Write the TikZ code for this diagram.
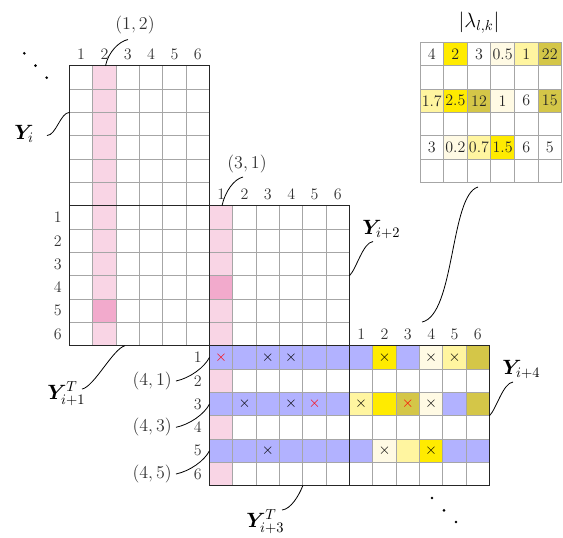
\RequirePackage{fix-cm}
\documentclass[tikz,border=0pt]{standalone}
\usepackage{bm}
\definecolor{pinkL}{RGB}{249,213,229}
\definecolor{pinkD}{RGB}{242,170,204}
\definecolor{blueL}{RGB}{178,178,255}
\definecolor{yel}{RGB}{255,235,0}
\definecolor{yelL}{RGB}{255,245,160}
\definecolor{yelVL}{RGB}{255,250,228}
\definecolor{olivec}{RGB}{212,198,72}
\tikzset{
 gline/.style={draw=black!35, line width=0.75pt},
 gborder/.style={draw=black!85, line width=0.9pt},
 idx/.style={font=\fontsize{12}{14}\selectfont, inner sep=0pt, text=black!80},
 pairlbl/.style={font=\fontsize{13.5}{16}\selectfont, inner sep=0pt, text=black!80},
 ylbl/.style={font=\fontsize{15.5}{19}\selectfont, inner sep=0pt, anchor=base west},
 lam/.style={font=\fontsize{12}{14}\selectfont, inner sep=0pt, text=black!85},
 mk/.style={font=\fontsize{11.5}{13}\selectfont, inner sep=0pt},
 conn/.style={draw=black, line width=0.6pt},
 dotc/.style={fill=black, circle, inner sep=0pt, minimum size=2.2pt},
}
\begin{document}
\begin{tikzpicture}[x=0.75pt,y=-0.75pt]
\useasboundingbox (0,0) rectangle (563,537);
% ---------- main grids ----------
\begin{scope}[shift={(69.5,65.7)}, x=17.5pt, y=-17.5pt]
 % pink columns
 \fill[pinkL] (1,0) rectangle (2,12);
 \fill[pinkD] (1,10) rectangle (2,11);
 \fill[pinkL] (6,6) rectangle (7,12);
 \fill[pinkD] (6,9) rectangle (7,10);
 \foreach \r in {13,15,17} \fill[pinkL] (6,\r) rectangle (7,\r+1);
 % blue rows
 \foreach \r in {12,14,16} \fill[blueL] (6,\r) rectangle (18,\r+1);
 % Y_{i+4} colours
 \fill[yel] (13,12) rectangle (14,13);
 \fill[yelVL] (15,12) rectangle (16,13);
 \fill[yelL] (16,12) rectangle (17,13);
 \fill[olivec] (17,12) rectangle (18,13);
 \fill[yelL] (12,14) rectangle (13,15);
 \fill[yel] (13,14) rectangle (14,15);
 \fill[olivec] (14,14) rectangle (15,15);
 \fill[yelVL] (15,14) rectangle (16,15);
 \fill[olivec] (17,14) rectangle (18,15);
 \fill[yelVL] (13,16) rectangle (14,17);
 \fill[yelL] (14,16) rectangle (15,17);
 \fill[yel] (15,16) rectangle (16,17);
 % grid lines
 \foreach \k in {1,...,5} {
  \draw[gline] (\k,0) -- (\k,12);
  \draw[gline] (0,\k) -- (6,\k);
  \draw[gline] (0,\k+6) -- (6,\k+6);
  \draw[gline] (\k+6,6) -- (\k+6,18);
  \draw[gline] (6,\k+6) -- (12,\k+6);
  \draw[gline] (6,\k+12) -- (18,\k+12);
  \draw[gline] (\k+12,12) -- (\k+12,18);
 }
 % borders
 \draw[gborder] (0,0) rectangle (6,6);
 \draw[gborder] (0,6) rectangle (6,12);
 \draw[gborder] (6,6) rectangle (12,12);
 \draw[gborder] (6,12) rectangle (12,18);
 \draw[gborder] (12,12) rectangle (18,18);
 % column labels
 \foreach \c in {1,...,6} {
  \node[idx] (ca\c) at (\c-0.5,-0.48) {\c};
  \node[idx] (cb\c) at (\c+5.5,5.5) {\c};
  \node[idx] (cc\c) at (\c+11.5,11.52) {\c};
 }
 % row labels
 \foreach \r in {1,...,6} {
  \node[idx] (ra\r) at (-0.5,\r+5.5) {\r};
  \node[idx] (rb\r) at (5.5,\r+11.5) {\r};
 }
 % crosses in Y_{i+3}^T
 \node[mk,red] (m1) at (6.5,12.5) {$\times$};
 \node[mk] (m2) at (8.5,12.5) {$\times$};
 \node[mk] (m3) at (9.5,12.5) {$\times$};
 \node[mk] (m4) at (7.5,14.5) {$\times$};
 \node[mk] (m5) at (9.5,14.5) {$\times$};
 \node[mk,red] (m6) at (10.5,14.5) {$\times$};
 \node[mk] (m7) at (8.5,16.5) {$\times$};
 % crosses in Y_{i+4}
 \node[mk] (n1) at (13.5,12.5) {$\times$};
 \node[mk] (n2) at (15.5,12.5) {$\times$};
 \node[mk] (n3) at (16.5,12.5) {$\times$};
 \node[mk] (n4) at (12.5,14.5) {$\times$};
 \node[mk,red] (n5) at (14.5,14.5) {$\times$};
 \node[mk] (n6) at (15.5,14.5) {$\times$};
 \node[mk] (n7) at (13.5,16.5) {$\times$};
 \node[mk] (n8) at (15.5,16.5) {$\times$};
\end{scope}
% ---------- lambda table ----------
\begin{scope}[shift={(420,42.3)}, x=17.7pt, y=-17.55pt]
 \fill[yel] (1,0) rectangle (2,1);
 \fill[yelVL] (3,0) rectangle (4,1);
 \fill[yelL] (4,0) rectangle (5,1);
 \fill[olivec] (5,0) rectangle (6,1);
 \fill[yelL] (0,2) rectangle (1,3);
 \fill[yel] (1,2) rectangle (2,3);
 \fill[olivec] (2,2) rectangle (3,3);
 \fill[yelVL] (3,2) rectangle (4,3);
 \fill[olivec] (5,2) rectangle (6,3);
 \fill[yelVL] (1,4) rectangle (2,5);
 \fill[yelL] (2,4) rectangle (3,5);
 \fill[yel] (3,4) rectangle (4,5);
 \foreach \k in {0,...,6} {
  \draw[gline] (\k,0) -- (\k,6);
  \draw[gline] (0,\k) -- (6,\k);
 }
 \foreach \v [count=\i from 0] in {4,2,3,0.5,1,22}
  \node[lam] (la\i) at (\i+0.5,0.5) {\v};
 \foreach \v [count=\i from 0] in {1.7,2.5,12,1,6,15}
  \node[lam] (lb\i) at (\i+0.5,2.5) {\v};
 \foreach \v [count=\i from 0] in {3,0.2,0.7,1.5,6,5}
  \node[lam] (lc\i) at (\i+0.5,4.5) {\v};
\end{scope}
\node[ylbl, anchor=base] (lamlbl) at (479,27) {$|\lambda_{l,k}|$};
% ---------- labels ----------
\node[pairlbl] (p12) at (135,25) {$(1,2)$};
\node[pairlbl] (p31) at (247,164) {$(3,1)$};
\node[pairlbl, anchor=east] (p41) at (172,381) {$(4,1)$};
\node[pairlbl, anchor=east] (p43) at (172,427.3) {$(4,3)$};
\node[pairlbl, anchor=east] (p45) at (172,474) {$(4,5)$};
\node[ylbl] (yi) at (14,139) {$\bm{Y}_{i}$};
\node[ylbl] (yi1) at (47,399) {$\bm{Y}^{T}_{i+1}$};
\node[ylbl] (yi2) at (362,234.5) {$\bm{Y}_{i+2}$};
\node[ylbl] (yi3) at (246,527) {$\bm{Y}^{T}_{i+3}$};
\node[ylbl] (yi4) at (502,374.5) {$\bm{Y}_{i+4}$};
% ---------- dots ----------
\node[dotc] (d1) at (24.3,53.3) {};
\node[dotc] (d2) at (35.5,65.7) {};
\node[dotc] (d3) at (46.7,77.7) {};
\node[dotc] (d4) at (432,498) {};
\node[dotc] (d5) at (444,510.3) {};
\node[dotc] (d6) at (456,522) {};
% ---------- connector end points ----------
\coordinate (g12) at (105.5,65.7);   \coordinate (e12) at (128,39.5);
\coordinate (g31) at (222,205.7);    \coordinate (e31) at (243,177);
\coordinate (gyi) at (69.5,112.4);   \coordinate (eyi) at (47,135.5);
\coordinate (gy1) at (125,345.7);    \coordinate (ey1) at (82,389);
\coordinate (gy2) at (349.5,275.7);  \coordinate (ey2) at (373,241.5);
\coordinate (gy3) at (302.8,485.7);  \coordinate (ey3) at (282,510);
\coordinate (gy4) at (489.5,415.7);  \coordinate (ey4) at (513,382);
\coordinate (g41) at (209.5,357.3);  \coordinate (e41) at (176,381);
\coordinate (g43) at (209.5,404);    \coordinate (e43) at (176,427.3);
\coordinate (g45) at (209.5,450.7);  \coordinate (e45) at (176,474);
\coordinate (glam) at (478,187);     \coordinate (elam) at (422,322);
% ---------- connectors ----------
\draw[conn] (g12) .. controls +(3,-14) and +(-9,2) .. (e12);
\draw[conn] (g31) .. controls +(3,-14) and +(-9,2) .. (e31);
\draw[conn] (gyi) .. controls +(-9,0) and +(9,0) .. (eyi);
\draw[conn] (gy1) .. controls +(-12,3) and +(12,-2) .. (ey1);
\draw[conn] (gy2) .. controls +(7,-7) and +(-10,1) .. (ey2);
\draw[conn] (gy3) .. controls +(-4,10) and +(9,-1) .. (ey3);
\draw[conn] (gy4) .. controls +(7,-7) and +(-10,1) .. (ey4);
\draw[conn] (e41) .. controls +(14,-3) and +(-5,10) .. (g41);
\draw[conn] (e43) .. controls +(14,-3) and +(-5,10) .. (g43);
\draw[conn] (e45) .. controls +(14,-3) and +(-5,10) .. (g45);
\draw[conn] (glam) .. controls +(-28,8) and +(33,-7) .. (elam);
\end{tikzpicture}
\end{document}
